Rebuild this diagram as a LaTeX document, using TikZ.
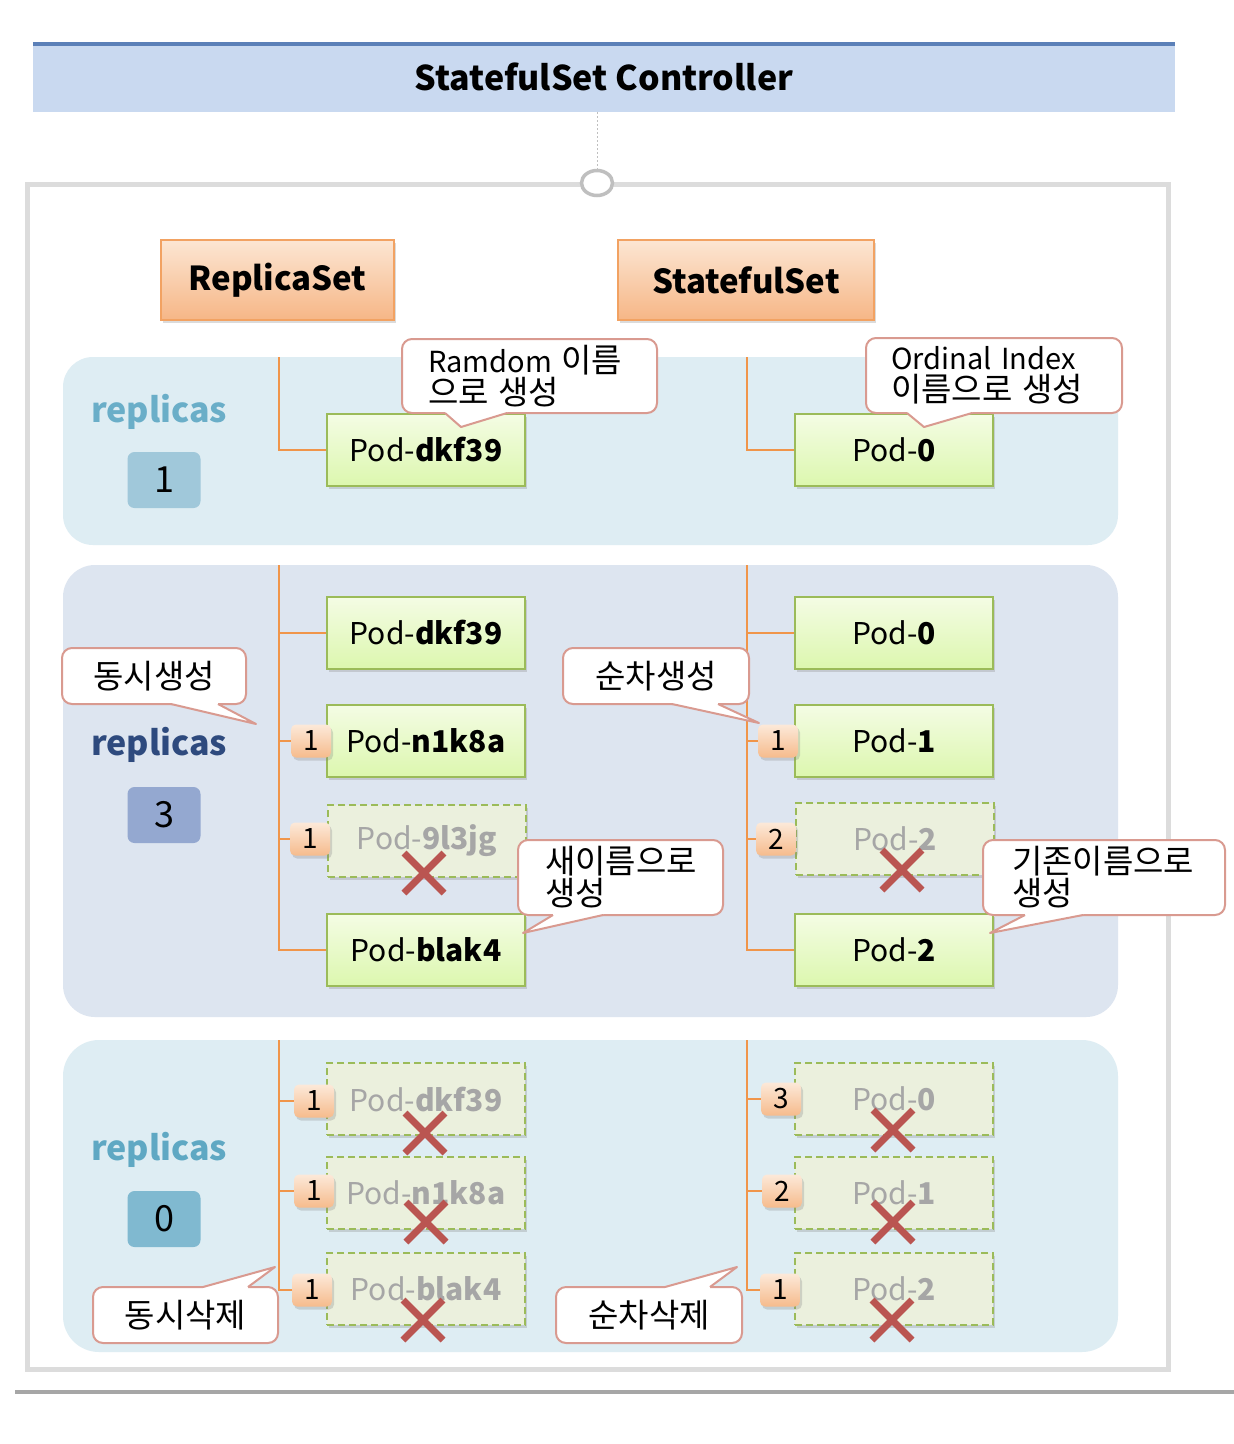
\documentclass[tikz,border=0pt]{standalone}
\usepackage{fontspec}
\setmainfont{Noto Sans CJK KR}
\usetikzlibrary{shadows,shapes.geometric}

\definecolor{titlefill}{HTML}{C9D9F0}
\definecolor{titleline}{HTML}{5B80B8}
\definecolor{orgtop}{HTML}{FCE6D3}
\definecolor{orgbot}{HTML}{F6B686}
\definecolor{orgline}{HTML}{F2A262}
\definecolor{treeline}{HTML}{F0954A}
\definecolor{bandA}{HTML}{DEEDF3}
\definecolor{bandB}{HTML}{DDE5F0}
\definecolor{podline}{HTML}{9BBB59}
\definecolor{podtop}{HTML}{F4FCE4}
\definecolor{podbot}{HTML}{DCF7AE}
\definecolor{delfill}{HTML}{EBF0DD}
\definecolor{deltext}{HTML}{A6A6A6}
\definecolor{xred}{HTML}{BA5551}
\definecolor{callline}{HTML}{D99A90}
\definecolor{repA}{HTML}{6AAEC8}
\definecolor{repB}{HTML}{2E4A7E}
\definecolor{repC}{HTML}{5FA8C3}
\definecolor{numA}{HTML}{A0C8DA}
\definecolor{numB}{HTML}{94A8D0}
\definecolor{numC}{HTML}{80B9D0}
\definecolor{framegray}{HTML}{DCDCDC}
\definecolor{circgray}{HTML}{BFBFBF}
\definecolor{basegray}{HTML}{A6A6A6}
\definecolor{badgetop}{HTML}{FCE9D9}
\definecolor{badgebot}{HTML}{F6BB8C}

\newcommand\podfont{\fontsize{30}{34}\selectfont}
\newcommand\callfont{\fontsize{29}{32}\selectfont}
\newcommand\kr[1]{{\fontsize{33}{32}\selectfont #1}}
\newcommand\redx[2]{\draw[xred, line width=7pt] (#1-20,#2-20) -- (#1+20,#2+20) (#1-20,#2+20) -- (#1+20,#2-20);}
% x1 x2 basey tipx tipy inwardy
\newcommand\callptr[6]{%
  \fill[white] (#1,#6) -- (#1,#3) -- (#4,#5) -- (#2,#3) -- (#2,#6) -- cycle;
  \draw[callline, line width=2pt, line join=round] (#1,#3) -- (#4,#5) -- (#2,#3);}

\begin{document}
\begin{tikzpicture}[x=1pt,y=-1pt,
  shadowed/.style={drop shadow={shadow xshift=2pt,shadow yshift=-3pt,opacity=0.28}},
  pod/.style={draw=podline, line width=2.2pt, top color=podtop, bottom color=podbot,
    minimum width=198pt, minimum height=72pt, inner sep=0pt, font=\podfont, shadowed},
  delpod/.style={draw=podline, line width=2.2pt, dash pattern=on 7pt off 4pt, fill=delfill,
    minimum width=198pt, minimum height=72pt, inner sep=0pt, font=\podfont, text=deltext, shadowed},
  setbox/.style={draw=orgline, line width=2pt, top color=orgtop, bottom color=orgbot,
    minimum height=80pt, inner sep=0pt, font=\fontsize{33}{40}\selectfont\bfseries, shadowed},
  badge/.style={rounded corners=5pt, top color=badgetop, bottom color=badgebot,
    minimum width=40pt, minimum height=33pt, inner sep=0pt, font=\fontsize{28}{30}\selectfont, shadowed},
  numbox/.style={rounded corners=7pt, minimum width=73pt, minimum height=56pt, inner sep=0pt,
    font=\fontsize{36}{40}\selectfont},
  replab/.style={anchor=base, font=\fontsize{34}{40}\selectfont\bfseries, inner sep=0pt},
  tree/.style={draw=treeline, line width=2.5pt},
  callout/.style={draw=callline, line width=2pt, fill=white, rounded corners=10pt,
    font=\callfont, inner ysep=0pt},
]
\useasboundingbox (0,0) rectangle (1234,1444);
\fill[white] (0,0) rectangle (1234,1444);

% title
\node (title) [fill=titlefill, minimum width=1142pt, minimum height=70pt, inner sep=0pt,
  font=\fontsize{34}{40}\selectfont\bfseries] at (604,77) {StatefulSet Controller};
\draw[titleline, line width=4pt] ([yshift=-2pt]title.north west) -- ([yshift=-2pt]title.north east);

% outer frame
\draw[framegray, line width=5pt] (27,184) rectangle (1168,1369);
\node (hub) [ellipse, draw=circgray, line width=3.5pt, fill=white, minimum width=31pt,
  minimum height=25pt, inner sep=0pt] at (597,183) {};
\draw[circgray, line width=0.8pt, dash pattern=on 2pt off 2pt] (title.south -| hub.north) -- (hub.north);

% bottom rule
\draw[basegray, line width=4pt] (15,1392) -- (1234,1392);

% bands
\fill[bandA, rounded corners=30pt] (63,357) rectangle (1118,545);
\fill[bandB, rounded corners=32pt] (63,565) rectangle (1118,1017);
\fill[bandA, rounded corners=36pt] (63,1040) rectangle (1118,1352);

% set boxes
\node (rs) [setbox, minimum width=233pt] at (277.5,280) {ReplicaSet};
\node (ss) [setbox, minimum width=256pt] at (746,280) {StatefulSet};

% replicas labels
\node (r1) [replab, text=repA] at (159,422) {replicas};
\node (n1) [numbox, fill=numA] at (164,480) {1};
\node (r2) [replab, text=repB] at (159,755) {replicas};
\node (n2) [numbox, fill=numB] at (164,815) {3};
\node (r3) [replab, text=repC] at (159,1160) {replicas};
\node (n3) [numbox, fill=numC] at (164,1219) {0};

% tree anchors
\coordinate (t1l) at (279,357);
\coordinate (t1r) at (747,357);
\coordinate (t2l) at (279,565);
\coordinate (t2r) at (747,565);
\coordinate (t3l) at (279,1040);
\coordinate (t3r) at (747,1040);

% pods
\node (p1l) [pod] at (426,450) {Pod-\textbf{dkf39}};
\node (p1r) [pod] at (894,450) {Pod-\textbf{0}};

\node (p2l1) [pod] at (426,633) {Pod-\textbf{dkf39}};
\node (p2l2) [pod] at (426,741) {Pod-\textbf{n1k8a}};
\node (p2l3) [delpod] at (427,841) {Pod-\textbf{9l3jg}};
\node (p2l4) [pod] at (426,950) {Pod-\textbf{blak4}};
\node (p2r1) [pod] at (894,633) {Pod-\textbf{0}};
\node (p2r2) [pod] at (894,741) {Pod-\textbf{1}};
\node (p2r3) [delpod] at (895,839) {Pod-\textbf{2}};
\node (p2r4) [pod] at (894,950) {Pod-\textbf{2}};

\node (p3l1) [delpod] at (426,1099) {Pod-\textbf{dkf39}};
\node (p3l2) [delpod] at (426,1193) {Pod-\textbf{n1k8a}};
\node (p3l3) [delpod] at (426,1289) {Pod-\textbf{blak4}};
\node (p3r1) [delpod] at (894,1099) {Pod-\textbf{0}};
\node (p3r2) [delpod] at (894,1193) {Pod-\textbf{1}};
\node (p3r3) [delpod] at (894,1289) {Pod-\textbf{2}};

% badges
\node (b2l2) [badge] at (311,741) {1};
\node (b2l3) [badge] at (310,839) {1};
\node (b2r2) [badge] at (778,741) {1};
\node (b2r3) [badge] at (776,839) {2};
\node (b3l1) [badge] at (314,1101) {1};
\node (b3l2) [badge] at (314,1191) {1};
\node (b3l3) [badge] at (312,1290) {1};
\node (b3r1) [badge] at (781,1099) {3};
\node (b3r2) [badge] at (782,1191) {2};
\node (b3r3) [badge] at (780,1290) {1};

% tree lines
\path[tree] (t1l) |- (p1l.west);
\path[tree] (t1r) |- (p1r.west);
\path[tree] (t2l) |- (p2l4.west);
\path[tree] (t2l |- p2l1.west) -- (p2l1.west);
\path[tree] (t2l |- b2l2.west) -- (b2l2.west);
\path[tree] (t2l |- b2l3.west) -- (b2l3.west);
\path[tree] (t2r) |- (p2r4.west);
\path[tree] (t2r |- p2r1.west) -- (p2r1.west);
\path[tree] (t2r |- b2r2.west) -- (b2r2.west);
\path[tree] (t2r |- b2r3.west) -- (b2r3.west);
\path[tree] (t3l) |- (b3l3.west);
\path[tree] (t3l |- b3l1.west) -- (b3l1.west);
\path[tree] (t3l |- b3l2.west) -- (b3l2.west);
\path[tree] (t3r) |- (b3r3.west);
\path[tree] (t3r |- b3r1.west) -- (b3r1.west);
\path[tree] (t3r |- b3r2.west) -- (b3r2.west);

% red crosses
\redx{424}{873}
\redx{902}{870}
\redx{425}{1133}
\redx{426}{1222}
\redx{423}{1320}
\redx{893}{1130}
\redx{893}{1222}
\redx{892}{1320}

% callouts
\node (c1) [callout, minimum width=255pt, minimum height=74pt, text width=203pt, align=left,
  inner xsep=26pt] at (529.5,376) {Ramdom \kr{이름}\\\kr{으로 생성}};
\callptr{445}{507}{413}{461}{427}{409}
\node (c2) [callout, minimum width=256pt, minimum height=75pt, text width=206pt, align=left,
  inner xsep=25pt] at (994,375.5) {Ordinal Index\\\kr{이름으로 생성}};
\callptr{907}{972}{413}{924}{427}{409}
\node (c3) [callout, minimum width=184pt, minimum height=56pt, align=center] at (154,676) {\kr{동시생성}};
\callptr{171}{218}{704}{256}{724}{700}
\node (c4) [callout, minimum width=186pt, minimum height=56pt, align=center] at (656,676) {\kr{순차생성}};
\callptr{672}{718}{704}{759}{723}{700}
\node (c5) [callout, minimum width=205pt, minimum height=75pt, text width=151pt, align=left,
  inner xsep=27pt] at (620.5,877.5) {\kr{새이름으로}\\\kr{생성}};
\callptr{553}{603}{915}{523}{933}{911}
\node (c6) [callout, minimum width=242pt, minimum height=75pt, text width=184pt, align=left,
  inner xsep=29pt] at (1104,877.5) {\kr{기존이름으로}\\\kr{생성}};
\callptr{1025}{1083}{915}{990}{933}{911}
\node (c7) [callout, minimum width=185pt, minimum height=56pt, align=center] at (185.5,1315) {\kr{동시삭제}};
\callptr{203}{248}{1287}{275}{1267}{1291}
\node (c8) [callout, minimum width=186pt, minimum height=56pt, align=center] at (649,1315) {\kr{순차삭제}};
\callptr{665}{710}{1287}{737}{1267}{1291}
\end{tikzpicture}
\end{document}
